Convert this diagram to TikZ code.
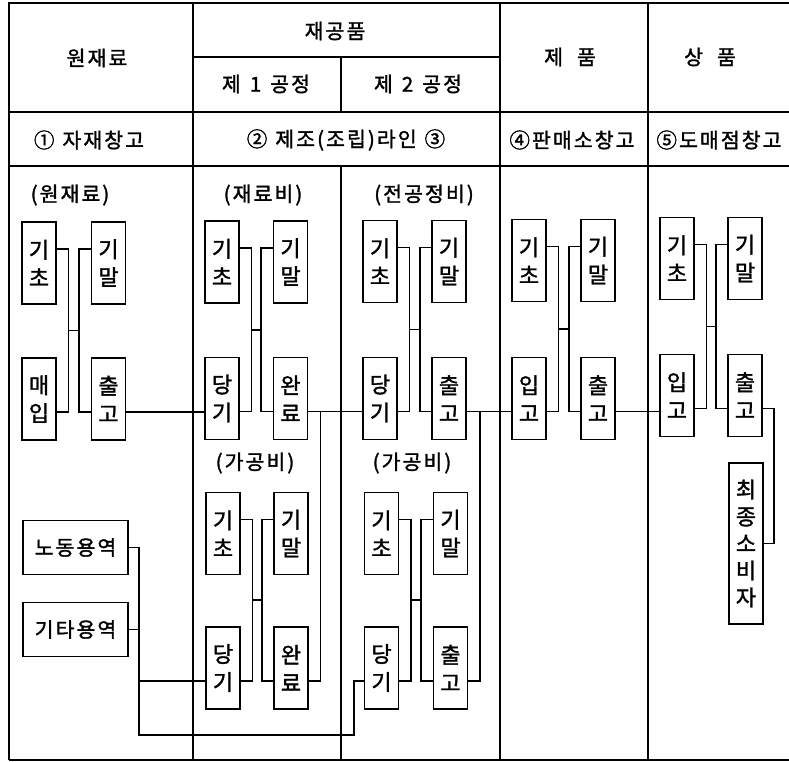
\documentclass[tikz,border=0pt]{standalone}
\usepackage{fontspec}
\newfontfamily\kr[FakeBold=1.5]{Noto Sans CJK KR}
\newfontfamily\krs[LetterSpace=10,FakeBold=1.5]{Noto Sans CJK KR}
\usetikzlibrary{calc}
\tikzset{
  vb/.style={draw, line width=1.6pt, minimum width=34pt, minimum height=82pt, inner sep=0pt, align=center, font=\kr\fontsize{22}{28}\selectfont},
  hb/.style={draw, line width=1.6pt, minimum width=105pt, minimum height=54pt, inner sep=0pt, font=\krs\fontsize{20.5}{24}\selectfont},
  lbl/.style={inner sep=0pt, font=\krs\fontsize{20.5}{24}\selectfont},
  grid/.style={line width=1.6pt},
  wire/.style={line width=1.6pt}
}
\newcommand\boxgroup[9]{%
  \node[vb] (#1TL) at (#2,#4) {#6};
  \node[vb] (#1TR) at (#3,#4) {#7};
  \node[vb] (#1BL) at (#2,#5) {#8};
  \node[vb] (#1BR) at (#3,#5) {#9};
  \coordinate (#1tlE) at ($(#1TL.east)+(0,-14)$);
  \coordinate (#1trW) at ($(#1TR.west)+(0,-14)$);
  \coordinate (#1blE) at ($(#1BL.east)+(0,13)$);
  \coordinate (#1blW) at ($(#1BL.west)+(0,13)$);
  \coordinate (#1brW) at ($(#1BR.west)+(0,13)$);
  \coordinate (#1brE) at ($(#1BR.east)+(0,13)$);
  \coordinate (#1ml) at ($(#1tlE)!0.5!(#1blE)+(11.5,0)$);
  \coordinate (#1mr) at ($(#1trW)!0.5!(#1brW)+(-11.5,0)$);
  \draw[wire] (#1tlE) -- ++(11.5,0) |- (#1blE);
  \draw[wire] (#1trW) -- ++(-11.5,0) |- (#1brW);
  \draw[wire] (#1ml) -- (#1mr);
}
\begin{document}
\begin{tikzpicture}[x=1pt,y=-1pt]
\useasboundingbox (0,0) rectangle (789,762);
% table grid
\draw[grid] (9,760) -- (9,3) -- (789,3);
\draw[grid] (9,112) -- (789,112);
\draw[grid] (9,166) -- (789,166);
\draw[grid] (9,760) -- (789,760);
\draw[grid] (193,3) -- (193,760);
\draw[grid] (500,3) -- (500,760);
\draw[grid] (648,3) -- (648,760);
\draw[grid] (193,57) -- (500,57);
\draw[grid] (341,57) -- (341,112);
\draw[grid] (341,166) -- (341,760);
% headers
\node[lbl] (h1) at (97,58) {원재료};
\node[lbl] (h2) at (335,31) {재공품};
\node[lbl] (h3) at (266,84) {제\hspace{9pt}1\hspace{9pt}공정};
\node[lbl] (h4) at (418,84) {제\hspace{9pt}2\hspace{9pt}공정};
\node[lbl] (h5) at (570,57) {제\hspace{14pt}품};
\node[lbl] (h6) at (710,57) {상\hspace{14pt}품};
\node[lbl] (r1) at (89,140) {①\hspace{8pt}자재창고};
\node[lbl] (r2) at (346,140) {②\hspace{8pt}제조(조립)라인\hspace{8pt}③};
\node[lbl] (r4) at (572,140) {④판매소창고};
\node[lbl] (r5) at (719,140) {⑤도매점창고};
% sub labels
\node[lbl] (s1) at (70,195) {(원재료)};
\node[lbl] (s2) at (263,195) {(재료비)};
\node[lbl] (s3) at (424,195) {(전공정비)};
\node[lbl] (s4) at (255,463) {(가공비)};
\node[lbl] (s5) at (412,463) {(가공비)};
% box groups
\boxgroup{g1}{39}{108.5}{263}{399}{기\\초}{기\\말}{매\\입}{출\\고}
\boxgroup{g2}{222}{290.5}{262}{398.5}{기\\초}{기\\말}{당\\기}{완\\료}
\boxgroup{g3}{380}{449}{261.5}{398.5}{기\\초}{기\\말}{당\\기}{출\\고}
\boxgroup{g4}{529}{598}{260.5}{398.5}{기\\초}{기\\말}{입\\고}{출\\고}
\boxgroup{g5}{677}{745}{258.5}{395.5}{기\\초}{기\\말}{입\\고}{출\\고}
\boxgroup{k2}{223}{291}{533.5}{668}{기\\초}{기\\말}{당\\기}{완\\료}
\boxgroup{k3}{381.5}{450.5}{533.5}{668}{기\\초}{기\\말}{당\\기}{출\\고}
% consumer
\node[vb, minimum height=161pt, font=\kr\fontsize{22}{27}\selectfont] (cons) at (746,543.5) {최\\종\\소\\비\\자};
% labour & other services
\node[hb] (lab) at (75.5,547.5) {노동용역};
\node[hb] (etc) at (75.5,629.5) {기타용역};
% flow connectors
\draw[wire] (g1brE) -- (g1brE -| g2BL.west);
\draw[wire] (g2brE) -- (g2brE -| g3BL.west);
\coordinate (j2) at ($(g2brE)+(12,0)$);
\draw[wire] (k2brE) -| (j2);
\draw[wire] (g3brE) -- (g3brE -| g4BL.west);
\coordinate (j3) at ($(g3brE)+(13,0)$);
\draw[wire] (k3brE) -| (j3);
\draw[wire] (g4brE) -- (g4brE -| g5BL.west);
\draw[wire] (g5brE) -- ++(11,0) |- (cons.east);
\coordinate (busL) at (139,735);
\coordinate (busR) at (354,735);
\draw[wire] (lab.east) -| (busL) -- (busR) |- (k3blW);
\draw[wire] (etc.east) -- (etc.east -| busL);
\draw[wire] (k2blW) -- (k2blW -| busL);
\end{tikzpicture}
\end{document}
